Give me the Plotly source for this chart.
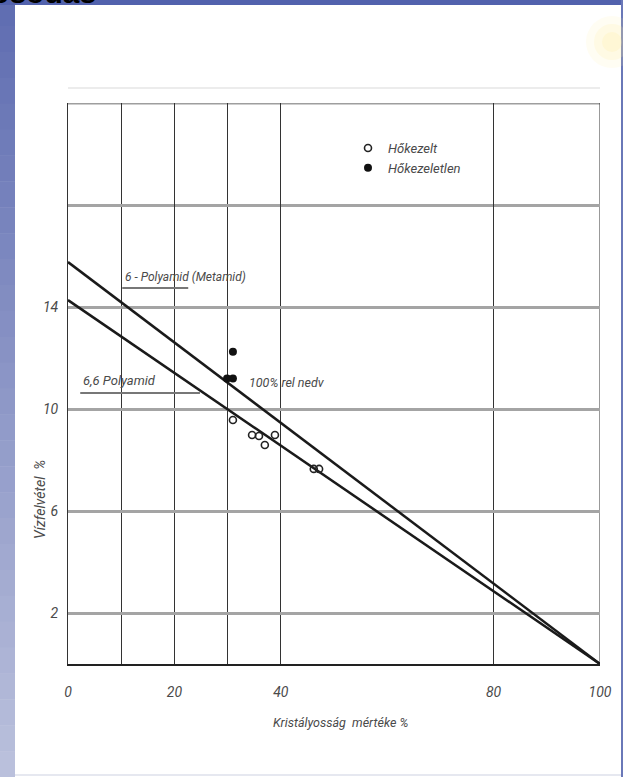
import plotly.graph_objects as go

# ---- data ----
x_tick_vals = [0, 20, 40, 80, 100]
x_tick_text = ["0", "20", "40", "80", "100"]
x_minor_grid = [10, 30]
y_tick_vals = [2, 6, 10, 14]
y_tick_text = ["2", "6", "10", "14"]
y_minor_grid = [18]

poly6_x = [0, 100]          # 6-Polyamid (Metamid) line
poly6_y = [15.76, 0.0]
poly66_x = [0, 100]         # 6,6 Polyamid line
poly66_y = [14.27, 0.0]

treated_x = [31.0, 34.6, 35.9, 37.0, 38.9, 46.2, 47.2]    # Hőkezelt (open)
treated_y = [9.57, 8.98, 8.94, 8.59, 8.98, 7.65, 7.65]
untreated_x = [29.9, 31.0, 31.0]                          # Hőkezeletlen (filled)
untreated_y = [11.2, 11.2, 12.25]

FONT = "Roboto, Liberation Sans Narrow, sans-serif"
TXT = "#4a4a4a"

W, H = 623, 777
L, R, T, B = 68, 23, 103, 113
PW, PH = W - L - R, H - T - B


def px_x(p):
    return (p - L) / PW


def px_y(p):
    return (H - B - p) / PH


fig = go.Figure()

fig.add_trace(go.Scatter(x=poly6_x, y=poly6_y, mode="lines", showlegend=False,
                         line=dict(color="#1a1a1a", width=2.5), hoverinfo="skip"))
fig.add_trace(go.Scatter(x=poly66_x, y=poly66_y, mode="lines", showlegend=False,
                         line=dict(color="#1a1a1a", width=2.5), hoverinfo="skip"))
fig.add_trace(go.Scatter(x=treated_x, y=treated_y, mode="markers", name="Hőkezelt",
                         marker=dict(symbol="circle-open", size=7, color="#222",
                                     line=dict(width=1.6, color="#222"))))
fig.add_trace(go.Scatter(x=untreated_x, y=untreated_y, mode="markers", name="Hőkezeletlen",
                         marker=dict(symbol="circle", size=8, color="#111")))

shapes = []
# slide decoration: left gradient strip
n = 30
top_c = (96, 110, 178)
bot_c = (186, 192, 220)
for i in range(n):
    f = i / (n - 1)
    c = tuple(int(top_c[k] + (bot_c[k] - top_c[k]) * f) for k in range(3))
    shapes.append(dict(type="rect", xref="paper", yref="paper",
                       x0=px_x(0), x1=px_x(15),
                       y0=px_y(H * (i + 1) / n + 0.5), y1=px_y(H * i / n),
                       fillcolor="rgb(%d,%d,%d)" % c, line=dict(width=0), layer="below"))
# top bar
shapes.append(dict(type="rect", xref="paper", yref="paper", x0=px_x(0), x1=px_x(W),
                   y0=px_y(5), y1=px_y(0), fillcolor="#5262ad", line=dict(width=0), layer="below"))
# right edge line
shapes.append(dict(type="rect", xref="paper", yref="paper", x0=px_x(621), x1=px_x(W),
                   y0=px_y(H), y1=px_y(0), fillcolor="#6a78b8", line=dict(width=0), layer="below"))
# bottom faint edge
shapes.append(dict(type="line", xref="paper", yref="paper", x0=px_x(15), x1=px_x(621),
                   y0=px_y(775), y1=px_y(775), line=dict(color="#e6e8f0", width=2), layer="below"))
# yellow glow top right
for r, a in [(26, 0.12), (18, 0.18), (10, 0.22)]:
    shapes.append(dict(type="circle", xref="paper", yref="paper",
                       x0=px_x(612 - r), x1=px_x(612 + r), y0=px_y(42 + r), y1=px_y(42 - r),
                       fillcolor="rgba(255,238,160,%s)" % a, line=dict(width=0), layer="below"))
# faint line above chart box
shapes.append(dict(type="line", xref="paper", yref="paper", x0=0, x1=1,
                   y0=px_y(88), y1=px_y(88), line=dict(color="#ececec", width=2), layer="below"))
# top border (gray like horizontal grid) and right border
shapes.append(dict(type="line", xref="x", yref="y", x0=0, x1=100, y0=22, y1=22,
                   line=dict(color="#9e9e9e", width=3), layer="below"))
shapes.append(dict(type="line", xref="x", yref="y", x0=100, x1=100, y0=0, y1=22,
                   line=dict(color="#333", width=1), layer="below"))
# leader underlines of labels
shapes.append(dict(type="line", xref="x", yref="y", x0=10.2, x1=22.6, y0=14.75, y1=14.75,
                   line=dict(color="#777", width=2)))
shapes.append(dict(type="line", xref="x", yref="y", x0=2.3, x1=24.8, y0=10.63, y1=10.63,
                   line=dict(color="#777", width=2)))

ann = [
    dict(x=px_x(98), y=px_y(11), xref="paper", yref="paper", xanchor="right", yanchor="bottom",
         text="<b>kristályosodás</b>", showarrow=False,
         font=dict(family="Liberation Sans, Arial, sans-serif", size=30, color="#000")),
    dict(x=px_x(123), y=px_y(277), xref="paper", yref="paper", xanchor="left", yanchor="middle",
         text="6 - Polyamid (Metamid)", showarrow=False,
         font=dict(family=FONT, size=12, color=TXT, style="italic")),
    dict(x=px_x(81), y=px_y(381), xref="paper", yref="paper", xanchor="left", yanchor="middle",
         text="6,6 Polyamid", showarrow=False,
         font=dict(family=FONT, size=13, color=TXT, style="italic")),
    dict(x=px_x(247), y=px_y(382), xref="paper", yref="paper", xanchor="left", yanchor="middle",
         text="100% rel nedv", showarrow=False,
         font=dict(family=FONT, size=12.5, color=TXT, style="italic")),
    dict(x=px_x(40), y=px_y(500), xref="paper", yref="paper", xanchor="center", yanchor="middle",
         text="Vízfelvétel  %", textangle=-90, showarrow=False,
         font=dict(family=FONT, size=14, color=TXT, style="italic")),
    dict(x=px_x(340), y=px_y(722), xref="paper", yref="paper", xanchor="center", yanchor="middle",
         text="Kristályosság  mértéke %", showarrow=False,
         font=dict(family=FONT, size=12.5, color=TXT, style="italic")),
]

fig.update_layout(
    width=W, height=H,
    margin=dict(l=L, r=R, t=T, b=B, pad=0),
    paper_bgcolor="white", plot_bgcolor="white",
    shapes=shapes, annotations=ann,
    legend=dict(x=px_x(348), y=px_y(133), xanchor="left", yanchor="top",
                bgcolor="rgba(0,0,0,0)",
                font=dict(family=FONT, size=13, color=TXT, style="italic")),
)
fig.update_xaxes(range=[0, 100], tickvals=x_tick_vals, ticktext=x_tick_text,
                 showgrid=True, gridcolor="#333", gridwidth=1,
                 minor=dict(tickvals=x_minor_grid, showgrid=True, gridcolor="#333", gridwidth=1),
                 showline=True, linecolor="#222", linewidth=2, zeroline=False,
                 ticks="", ticklabelstandoff=14,
                 tickfont=dict(family=FONT, size=14, color=TXT, style="italic"))
fig.update_yaxes(range=[0, 22], tickvals=y_tick_vals, ticktext=y_tick_text,
                 showgrid=True, gridcolor="#a4a4a4", gridwidth=3,
                 minor=dict(tickvals=y_minor_grid, showgrid=True, gridcolor="#a4a4a4", gridwidth=3),
                 showline=True, linecolor="#333", linewidth=1, zeroline=False,
                 ticks="", ticklabelstandoff=6,
                 tickfont=dict(family=FONT, size=14, color=TXT, style="italic"))

fig.write_html("out.html", config={"displayModeBar": False},
               post_script="document.body.style.margin='0px';document.body.style.overflow='hidden';")
